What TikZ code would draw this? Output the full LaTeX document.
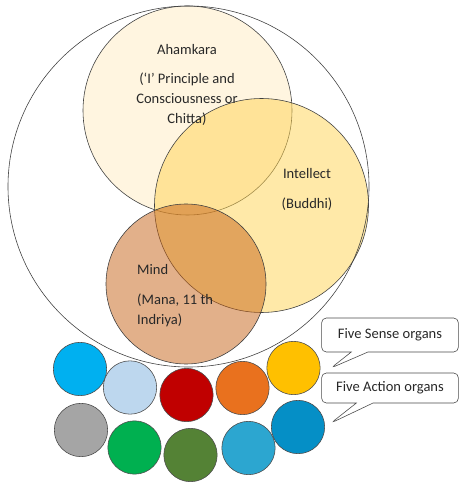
\documentclass[tikz,border=0pt]{standalone}
\usepackage{fontspec}
\setmainfont{Carlito}
\usetikzlibrary{shapes.callouts}
\definecolor{ahamFill}{RGB}{255,245,224}
\definecolor{buddhiFill}{RGB}{255,211,81}
\definecolor{manaFill}{RGB}{197,97,21}
\definecolor{textGray}{RGB}{40,40,40}
\tikzset{
    every node/.style={
        font=\fontsize{12.4}{17}\selectfont,
        text=textGray
    },
    venn/.style={
        circle,
        draw=black!75,
        line width=0.5pt,
        inner sep=0pt
    },
    organ/.style={
        circle,
        draw=black!70,
        line width=0.5pt,
        inner sep=0pt,
        minimum size=1.6cm
    },
    note/.style={
        rectangle callout,
        draw=black!70,
        line width=0.5pt,
        rounded corners=4pt,
        fill=white,
        callout pointer width=0.5cm,
        minimum width=4.1cm
    }
}

\begin{document}
\begin{tikzpicture}[x=0.03cm, y=-0.03cm]
            \useasboundingbox (0,0) rectangle (459,483);

            % Inner circles
            \node (aham) [
                venn,
                fill=ahamFill,
                minimum size=6.27cm,
            ] at (187.5,110.5) {};
            \node (buddhi) [
                venn,
                fill=buddhiFill,
                fill opacity=0.5,
                minimum size=6.42cm,
            ] at (261.5,205.5) {};
            \node (mana) [
                venn,
                fill=manaFill,
                fill opacity=0.5,
                minimum size=4.8cm,
            ] at (186,284) {};

            % Outer circle
            \node (self) [
                venn,
                minimum size=10.83cm,
            ] at (188.5,186.5) {};

            % Texts
            \node (ahamText) at (187,50) {Ahamkara};
            \node (ahamNote) [align=center] at (187,99.5)
                {(‘I’ Principle and\\Consciousness or\\Chitta)};
            \node (buddhiText) at (307,174) {Intellect};
            \node (buddhiNote) at (307,204) {(Buddhi)};
            \node (manaText) [anchor=west, inner xsep=0pt] at (137,270) {Mind};
            \node (manaNote) [anchor=west, inner xsep=0pt, align=left] at (137,310.5)
                {(Mana, 11 th\\Indriya)};

            % Sense organs
            \node (sense1) [organ, fill={rgb,255:red,0;green,176;blue,240}] at (80,369) {};
            \node (sense2) [organ, fill={rgb,255:red,189;green,215;blue,238}] at (130,387.5) {};
            \node (sense3) [organ, fill={rgb,255:red,192;green,0;blue,0}] at (186.5,395) {};
            \node (sense4) [organ, fill={rgb,255:red,233;green,113;blue,30}] at (242.5,388) {};
            \node (sense5) [organ, fill={rgb,255:red,255;green,192;blue,0}] at (293.5,368) {};

            % Action organs
            \node (action1) [organ, fill={rgb,255:red,165;green,165;blue,165}] at (81,430) {};
            \node (action2) [organ, fill={rgb,255:red,0;green,176;blue,80}] at (134.5,447.5) {};
            \node (action3) [organ, fill={rgb,255:red,84;green,130;blue,53}] at (190.5,455) {};
            \node (action4) [organ, fill={rgb,255:red,44;green,166;blue,208}] at (248.5,448) {};
            \node (action5) [organ, fill={rgb,255:red,5;green,143;blue,198}] at (298,427) {};

            % Callouts
            \coordinate (senseTip) at (331,368);
            \coordinate (actionTip) at (331,423);
            \node (senseLabel) [
                note,
                minimum height=1.02cm,
                callout absolute pointer={(senseTip)},
            ] at (390,335) {Five Sense organs};
            \node (actionLabel) [
                note,
                minimum height=0.9cm,
                callout absolute pointer={(actionTip)},
            ] at (390,388) {Five Action organs};
        \end{tikzpicture}
\end{document}
